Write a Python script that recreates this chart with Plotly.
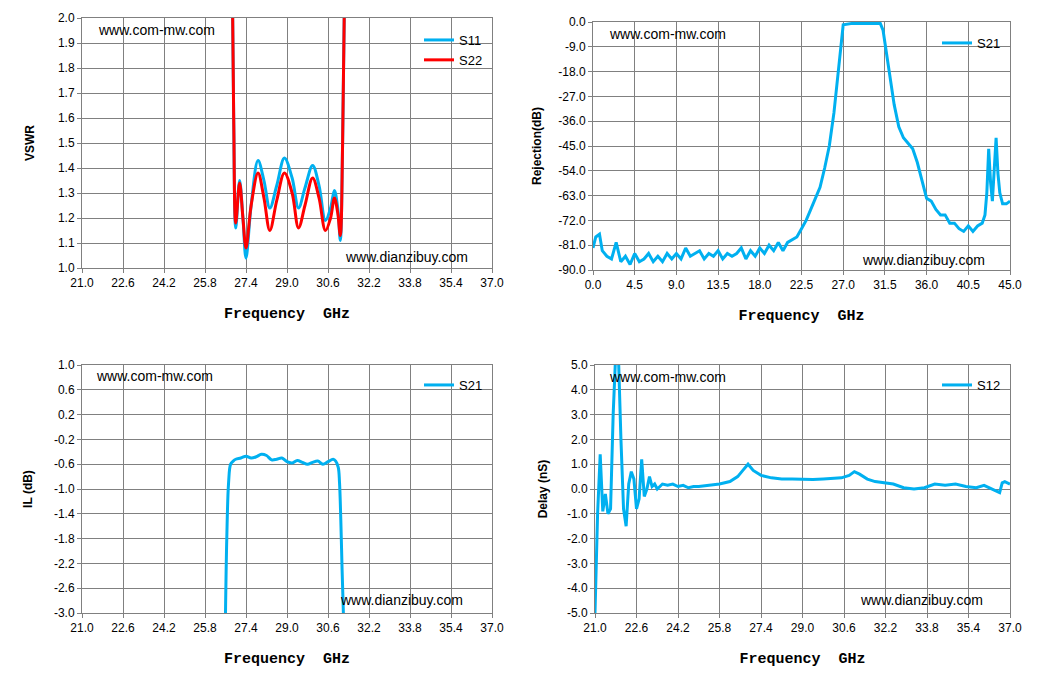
import plotly.graph_objects as go

W, H = 1055, 697
OFF = 8  # page body margin
BLUE = '#00b0f0'
RED = '#ff0000'

# VSWR
f_vswr = [26.85, 26.92, 27.0, 27.15, 27.28, 27.4, 27.6, 27.87, 28.1, 28.33, 28.6, 28.9, 29.2, 29.45, 29.7, 30.0, 30.25, 30.5, 30.7, 30.85, 30.98, 31.08, 31.17, 31.27]
s11 = [2.3, 1.6, 1.16, 1.35, 1.2, 1.04, 1.25, 1.43, 1.35, 1.24, 1.33, 1.44, 1.36, 1.24, 1.32, 1.41, 1.33, 1.19, 1.24, 1.31, 1.24, 1.11, 1.5, 2.3]
s22 = [2.3, 1.6, 1.18, 1.34, 1.2, 1.08, 1.25, 1.38, 1.28, 1.15, 1.27, 1.38, 1.3, 1.16, 1.25, 1.36, 1.28, 1.15, 1.2, 1.28, 1.22, 1.13, 1.5, 2.3]

# Rejection
f_rej = [0, 0.3, 0.7, 1.0, 1.5, 2.0, 2.5, 3.0, 3.5, 4.0, 4.5, 5.0, 5.5, 6.0, 6.5, 7.0, 7.5, 8.0, 8.5, 9.0, 9.5, 10.0,
         10.5, 11.0, 11.5, 12.0, 12.5, 13.0, 13.5, 14.0, 14.5, 15.0, 15.5, 16.0, 16.5, 17.0, 17.5, 18.0, 18.5, 19.0,
         19.5, 20.0, 20.5, 21.0, 21.5, 22.0, 22.5, 23.0, 23.5, 24.0, 24.5, 25.0, 25.5, 26.0, 26.5, 27.0, 28.0, 29.0,
         30.0, 31.0, 31.3, 31.7, 32.0, 32.5, 33.0, 33.5, 34.0, 34.5, 35.0, 35.3, 35.7, 36.0, 36.5, 37.0, 37.5, 38.0,
         38.5, 39.0, 39.5, 40.0, 40.5, 41.0, 41.5, 42.0, 42.3, 42.5, 42.7, 42.9, 43.1, 43.3, 43.5, 43.7, 43.9, 44.2, 44.6, 45.0]
s21_rej = [-82, -78, -77, -83, -85, -86, -80, -87, -85, -88, -84, -87, -86, -84, -87, -85, -87, -84, -86, -84, -86, -82,
           -85, -84, -83, -86, -84, -85, -83, -86, -84, -85, -84, -82, -86, -83, -85, -82, -84, -81, -83, -80, -83, -80,
           -79, -78, -75, -72, -68, -64, -60, -53, -45, -33, -18, -1, -0.5, -0.5, -0.5, -0.5, -3, -12, -20, -30, -38,
           -42, -44, -46, -51, -55, -60, -64, -65, -68, -70, -70, -73, -73, -75, -76, -74, -76, -74, -73, -70, -62,
           -46, -58, -65, -55, -42, -55, -62, -66, -66, -65]

# Insertion loss
f_il = [26.6, 26.65, 26.72, 26.8, 26.9, 27.0, 27.2, 27.4, 27.6, 27.8, 28.0, 28.2, 28.4, 28.6, 28.8, 29.0, 29.2, 29.4,
        29.6, 29.8, 30.0, 30.2, 30.4, 30.6, 30.8, 30.9, 31.0, 31.05, 31.1, 31.15, 31.2]
il = [-3.0, -1.8, -0.9, -0.6, -0.55, -0.52, -0.5, -0.47, -0.5, -0.48, -0.44, -0.46, -0.53, -0.52, -0.5, -0.56,
      -0.58, -0.54, -0.57, -0.6, -0.57, -0.55, -0.6, -0.56, -0.52, -0.55, -0.65, -0.9, -1.5, -2.3, -3.0]

# Group delay
f_gd = [21.0, 21.1, 21.2, 21.3, 21.4, 21.5, 21.6, 21.7, 21.8, 21.9, 22.0, 22.1, 22.2, 22.3, 22.4, 22.5, 22.6, 22.7,
        22.8, 22.9, 23.0, 23.1, 23.2, 23.3, 23.4, 23.6, 23.8, 24.0, 24.2, 24.4, 24.6, 24.8, 25.0, 25.4, 25.8, 26.2,
        26.5, 26.7, 26.9, 27.1, 27.4, 27.8, 28.2, 28.6, 29.0, 29.4, 29.8, 30.2, 30.5, 30.8, 31.0, 31.2, 31.5, 31.8,
        32.1, 32.5, 32.9, 33.3, 33.7, 34.1, 34.5, 34.9, 35.3, 35.7, 36.0, 36.3, 36.5, 36.6, 36.7, 36.8, 37.0]
gd = [-5.0, -1.0, 1.4, -0.9, -0.2, -1.0, -0.8, 3.0, 5.5, 5.5, 2.0, -0.8, -1.5, 0.2, 0.7, 0.4, -0.8, -0.4, 1.2,
      -0.3, 0.0, 0.5, 0.1, 0.2, 0.0, 0.2, 0.15, 0.2, 0.1, 0.15, 0.05, 0.1, 0.1, 0.15, 0.2, 0.3, 0.5, 0.75, 1.0,
      0.75, 0.55, 0.45, 0.4, 0.4, 0.38, 0.38, 0.4, 0.42, 0.45, 0.55, 0.7, 0.6, 0.4, 0.3, 0.25, 0.2, 0.05, 0.0,
      0.05, 0.2, 0.15, 0.2, 0.1, 0.05, 0.15, 0.0, -0.1, -0.15, 0.25, 0.3, 0.2]

fig = go.Figure()
fig.add_trace(go.Scatter(x=f_vswr, y=s11, name='S11', mode='lines', line=dict(color=BLUE, width=3, shape='spline'),
                         xaxis='x', yaxis='y', legend='legend'))
fig.add_trace(go.Scatter(x=f_vswr, y=s22, name='S22', mode='lines', line=dict(color=RED, width=3, shape='spline'),
                         xaxis='x', yaxis='y', legend='legend'))
fig.add_trace(go.Scatter(x=f_rej, y=s21_rej, name='S21', mode='lines', line=dict(color=BLUE, width=3),
                         xaxis='x2', yaxis='y2', legend='legend2'))
fig.add_trace(go.Scatter(x=f_il, y=il, name='S21', mode='lines', line=dict(color=BLUE, width=3, shape='spline'),
                         xaxis='x3', yaxis='y3', legend='legend3'))
fig.add_trace(go.Scatter(x=f_gd, y=gd, name='S12', mode='lines', line=dict(color=BLUE, width=3),
                         xaxis='x4', yaxis='y4', legend='legend4'))

def fx(a):
    return (a - OFF) / W

def fy(b):
    return 1 - (b - OFF) / H

def px(a, b):
    return [fx(a), fx(b)]

def py(top, bot):
    return [fy(bot), fy(top)]

tickfont = dict(family='Arial', size=12, color='black')
titlefont = dict(family='Liberation Mono', size=15, color='black')

def common(rng, dt):
    n = round((rng[1] - rng[0]) / dt)
    vals = [round(rng[0] + i * dt, 3) for i in range(n + 1)]
    text = ['%.1f' % v for v in vals]
    return dict(range=rng, tickvals=vals, ticktext=text, automargin=False,
                showgrid=True, gridcolor='#808080', gridwidth=1, showline=True, linecolor='#808080',
                mirror=True, ticks='outside', ticklen=4, tickcolor='#808080', tickfont=tickfont, zeroline=False)

def xax(dom, anchor, rng, dt):
    d = common(rng, dt)
    d.update(domain=dom, anchor=anchor, title=dict(text='<b>Frequency  GHz</b>', font=titlefont, standoff=18))
    return d

def yax(dom, anchor, rng, dt, title, so):
    d = common(rng, dt)
    d.update(domain=dom, anchor=anchor,
             title=dict(text='<b>' + title + '</b>', font=dict(family='Arial', size=12, color='black'), standoff=so))
    return d

def leg(x, y):
    return dict(x=fx(x), y=fy(y), xanchor='right', yanchor='top', bgcolor='rgba(255,255,255,0)',
                font=dict(family='Arial', size=13, color='black'), tracegroupgap=0)

fig.update_layout(
    width=W, height=H, margin=dict(l=0, r=0, t=0, b=0, autoexpand=False),
    paper_bgcolor='white', plot_bgcolor='white', showlegend=True,
    xaxis=xax(px(82, 492), 'y', [21, 37], 1.6),
    yaxis=yax(py(18, 268), 'x', [1.0, 2.0], 0.1, 'VSWR', 20),
    xaxis2=xax(px(593, 1010), 'y2', [0, 45], 4.5),
    yaxis2=yax(py(22, 270), 'x2', [-90, 0], 9, 'Rejection(dB)', 14),
    xaxis3=xax(px(82, 492), 'y3', [21, 37], 1.6),
    yaxis3=yax(py(365, 613), 'x3', [-3.0, 1.0], 0.4, 'IL (dB)', 18),
    xaxis4=xax(px(595, 1010), 'y4', [21, 37], 1.6),
    yaxis4=yax(py(365, 613), 'x4', [-5, 5], 1, 'Delay (nS)', 16),
    legend=leg(488, 25),
    legend2=leg(1006, 28),
    legend3=leg(488, 370),
    legend4=leg(1006, 370),
)

marks = [(96, 30, 'www.com-mw.com'), (343, 257, 'www.dianzibuy.com'),
         (607, 34, 'www.com-mw.com'), (860, 260, 'www.dianzibuy.com'),
         (94, 376, 'www.com-mw.com'), (338, 600, 'www.dianzibuy.com'),
         (607, 377, 'www.com-mw.com'), (858, 600, 'www.dianzibuy.com')]
for x, y, t in marks:
    fig.add_annotation(x=fx(x), y=fy(y), xref='paper', yref='paper', text=t, showarrow=False,
                       xanchor='left', yanchor='middle', font=dict(family='Arial', size=14, color='black'))

fig.write_html("out.html")
